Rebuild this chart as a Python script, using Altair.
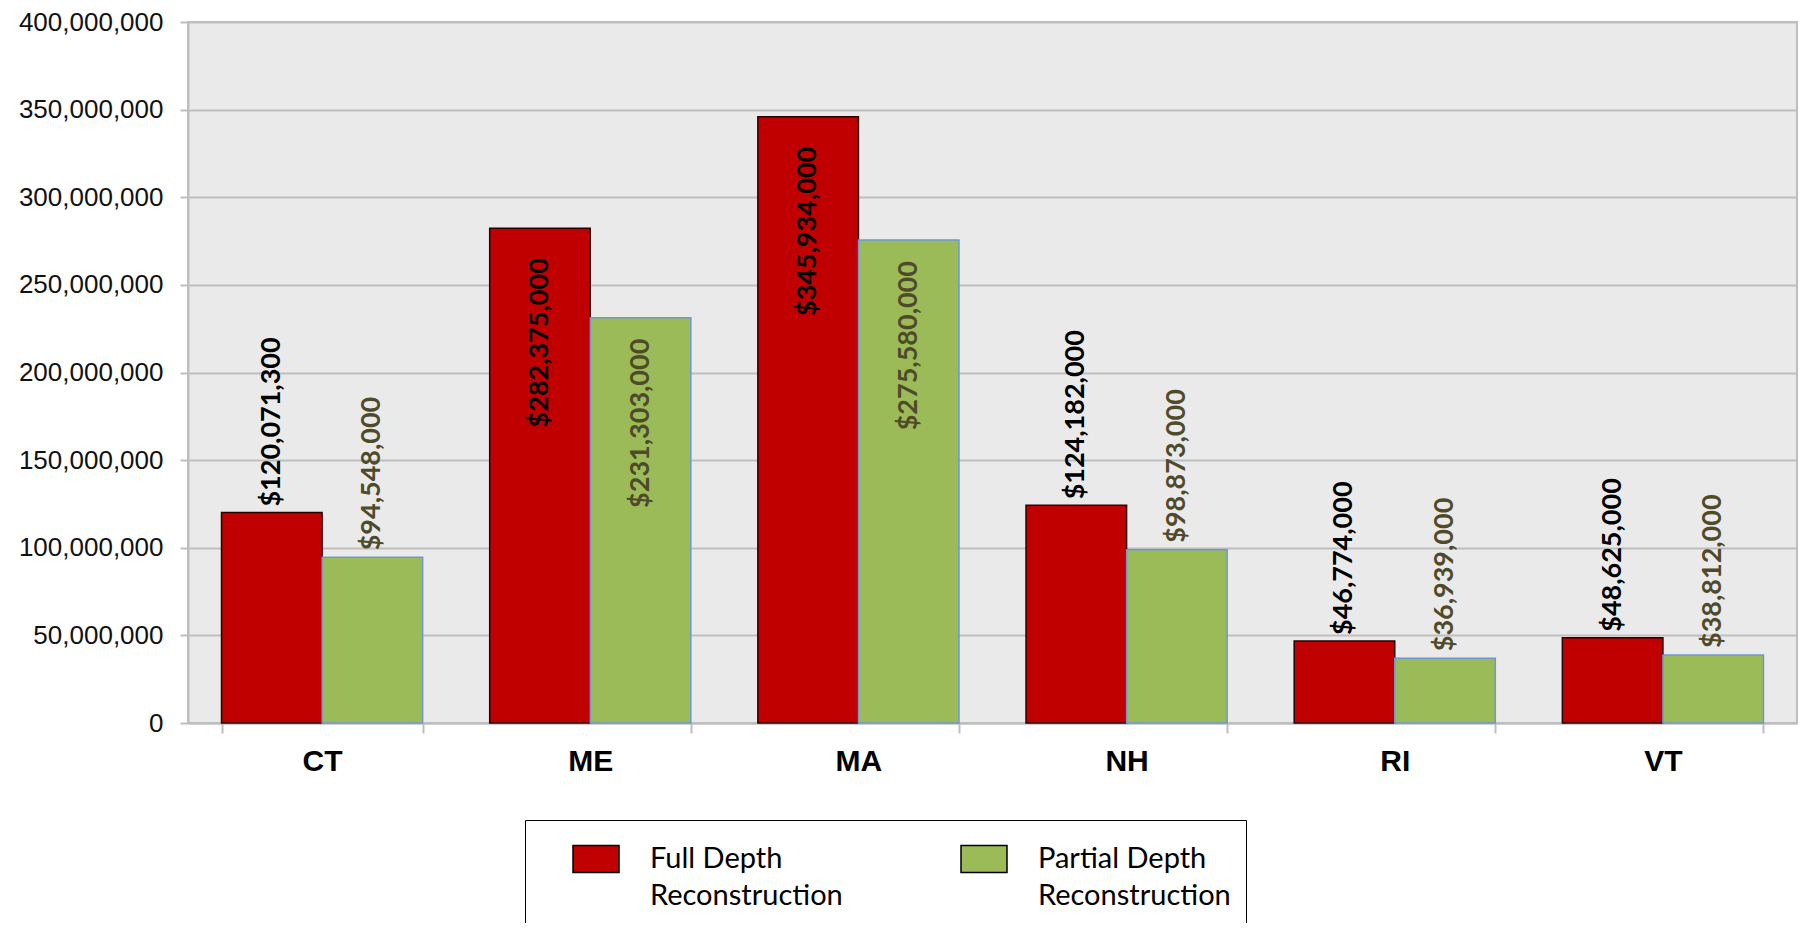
import altair as alt
import pandas as pd

states = ["CT", "ME", "MA", "NH", "RI", "VT"]
series_names = ["Full Depth Reconstruction", "Partial Depth Reconstruction"]
full_depth = [120071300, 282375000, 345934000, 124182000, 46774000, 48625000]
partial_depth = [94548000, 231303000, 275580000, 98873000, 36939000, 38812000]
full_label_inside = [False, True, True, False, False, False]
partial_label_inside = [False, True, True, False, False, False]
y_ticks = [0, 50000000, 100000000, 150000000, 200000000, 250000000, 300000000, 350000000, 400000000]
bar_colors = ["#C00000", "#9BBB59"]

rows = []
for i, s in enumerate(states):
    rows.append(dict(state=s, series=series_names[0], value=full_depth[i], inside=full_label_inside[i]))
    rows.append(dict(state=s, series=series_names[1], value=partial_depth[i], inside=partial_label_inside[i]))
df = pd.DataFrame(rows)

GRID = "#BEBEBE"

x_enc = alt.X(
    "state:N", sort=states,
    scale=alt.Scale(paddingInner=0.25, paddingOuter=0.125),
    axis=alt.Axis(title=None, labelAngle=0, tickBand="extent", grid=False,
                  labelFont="Liberation Sans", labelFontSize=30, labelFontWeight="bold",
                  labelColor="#000000", labelPadding=13, tickSize=10, tickColor=GRID,
                  tickWidth=2, domainColor=GRID, domainWidth=2),
)
xoff_enc = alt.XOffset("series:N", sort=series_names,
                       scale=alt.Scale(domain=series_names, paddingInner=0, paddingOuter=0))
y_enc = alt.Y(
    "value:Q",
    scale=alt.Scale(domain=[0, 400000000], nice=False),
    axis=alt.Axis(title=None, values=y_ticks, format=",d", labelFont="Liberation Sans",
                  labelFontSize=26, labelColor="#111111", labelPadding=17,
                  gridColor=GRID, gridWidth=2, tickSize=8, tickColor=GRID, tickWidth=2,
                  domainColor=GRID, domainWidth=2),
)

legend = alt.Legend(
    title=None, orient="none", legendX=337, legendY=798, direction="horizontal", columns=2,
    columnPadding=85,
    labelExpr="[replace(datum.label, ' Reconstruction', ''), 'Reconstruction']",
    labelFont="Lato", labelFontSize=29, labelColor="#000000", labelLimit=500, labelOffset=30,
    labelBaseline="middle",
    symbolType="M-1,-0.587H1V0.587H-1Z", symbolSize=2116, symbolStrokeColor="#000000",
    symbolStrokeWidth=1.5, symbolOffset=32, padding=15, strokeColor="#000000",
    fillColor="#FFFFFF",
)

bars = alt.Chart().mark_bar(strokeWidth=1.5).encode(
    x=x_enc, xOffset=xoff_enc, y=y_enc,
    color=alt.Color("series:N", scale=alt.Scale(domain=series_names, range=bar_colors), legend=legend),
    stroke=alt.when(alt.datum.series == series_names[0]).then(alt.value("#2a0000")).otherwise(alt.value("#6F97CF")),
)

def text_layer(series, inside, color, align, dx):
    cond = f"datum.series == '{series}' && " + ("datum.inside" if inside else "!datum.inside")
    return alt.Chart().mark_text(
        angle=270, align=align, baseline="middle", dx=dx, font="Lato",
        fontWeight="bold", fontSize=27, color=color,
    ).encode(
        x=x_enc, xOffset=xoff_enc, y=y_enc,
        text=alt.Text("value:Q", format="$,.0f"),
    ).transform_filter(cond)

layers = [
    bars,
    text_layer(series_names[0], False, "#000000", "left", 6),
    text_layer(series_names[0], True, "#000000", "right", -30),
    text_layer(series_names[1], False, "#4F4A2A", "left", 7),
    text_layer(series_names[1], True, "#4F4A2A", "right", -21),
]

chart = alt.layer(*layers, data=df).properties(
    width=1609, height=701, autosize="none",
    padding={"left": 180, "top": 14, "right": 7, "bottom": 200},
).configure(
    view={"fill": "#EAEAEA", "stroke": GRID, "strokeWidth": 2},
    style={"guide-label": {"lineHeight": 37}},
)

chart.save("out.html", embed_options={"renderer": "svg", "actions": False})
